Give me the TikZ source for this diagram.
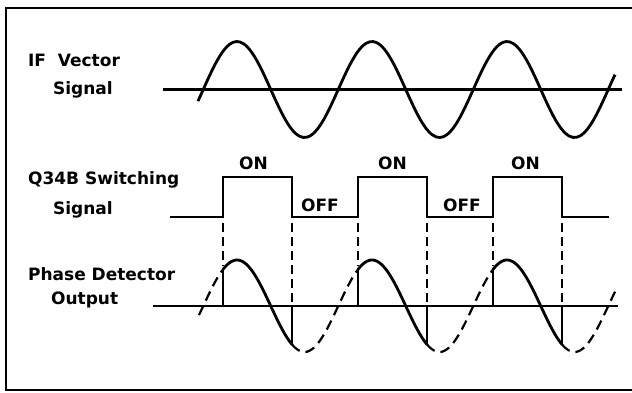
\documentclass[tikz,border=0pt]{standalone}
\usepackage{fontspec}
\setmainfont{DejaVu Sans}
\usetikzlibrary{calc}

\begin{document}
\begin{tikzpicture}[x=1pt,y=-1pt,line width=2.2pt,
  every node/.style={font=\bfseries\fontsize{17}{20}\selectfont,inner sep=0pt,anchor=base west},
  declare function={ifv(\x)=89.5-48*sin((\x-203.25)*2.66667); pd(\x)=306-46*sin((\x-203.25)*2.66667);},
  wave/.style={line width=2.8pt},
  gate/.style={line width=1.8pt,dash pattern=on 9pt off 5pt},
  lost/.style={line width=2.2pt,dash pattern=on 10pt off 6pt}]
  \useasboundingbox (0,0) rectangle (632,392);
  % frame, cut off at the right
  \draw[line width=2.4pt] (632,8) -- (6,8) -- (6,390) -- (632,390);
  % labels
  \node (ifa) at (27,66.5) {IF\ \ Vector};
  \node (ifb) at (52,94) {Signal};
  \node (swa) at (27,184) {Q34B Switching};
  \node (swb) at (52,214) {Signal};
  \node (pda) at (27,280) {Phase Detector};
  \node (pdb) at (50,304) {Output};
  % IF vector signal
  \draw (163,89.5) -- (622,89.5);
  \draw[wave] plot[domain=198:615,samples=120,smooth] (\x,{ifv(\x)});
  % switching signal
  \draw[wave] (170,217) -- (223,217) -- (223,177) -- (292,177) -- (292,217)
    -- (358,217) -- (358,177) -- (427,177) -- (427,217)
    -- (493,217) -- (493,177) -- (562,177) -- (562,217) -- (609,217);
  \node (on1) at (238,169) {ON};
  \node (on2) at (377,169) {ON};
  \node (on3) at (510,169) {ON};
  \node (off1) at (300,211) {OFF};
  \node (off2) at (442,211) {OFF};
  % phase detector output
  \draw[wave] (153,306) -- (618,306);
  \foreach \r/\f in {223/292,358/427,493/562}{
    \draw (\r,306) -- (\r,{pd(\r)});
    \draw[wave] plot[domain=\r:\f,samples=40,smooth] (\x,{pd(\x)});
    \draw (\f,306) -- (\f,{pd(\f)});
    \draw[gate] (\r,223) -- (\r,{pd(\r)-4});
    \draw[gate] (\f,223) -- (\f,303);
  }
  \foreach \a/\b in {199/223,292/358,427/493,562/617}
    \draw[lost] plot[domain=\a:\b,samples=40,smooth] (\x,{pd(\x)});
\end{tikzpicture}
\end{document}
